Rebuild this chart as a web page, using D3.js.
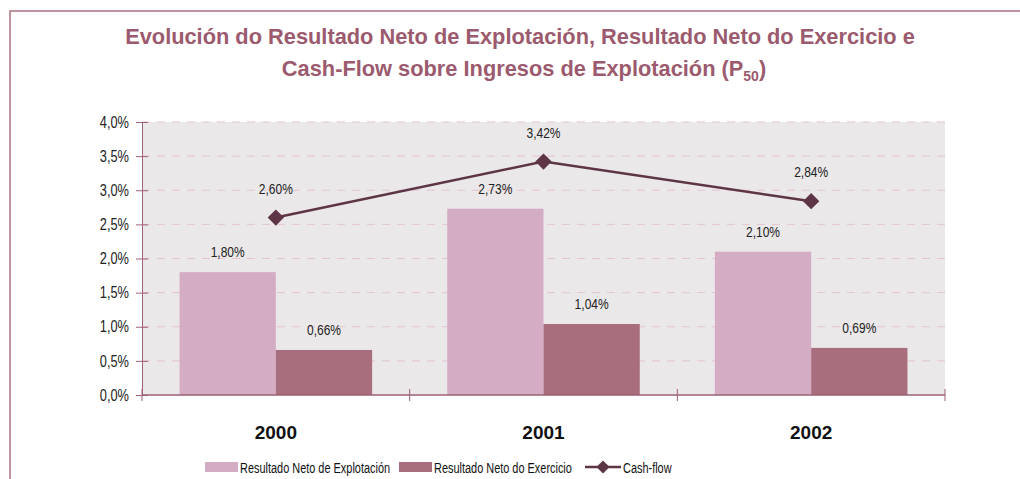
<!DOCTYPE html>
<html>
<head>
<meta charset="utf-8">
<script src="https://cdn.jsdelivr.net/npm/d3@7"></script>
<style>
  body { margin: 0; background: #fff; }
  #corpo { width: 1020px; height: 479px; overflow: hidden; }
  text { font-family: "Liberation Sans", Arial, sans-serif; }
</style>
</head>
<body>
<div id="corpo"></div>
<script>
// datos
var anos = ["2000", "2001", "2002"];
var series = ["Resultado Neto de Explotación", "Resultado Neto do Exercicio"];
var explotacion = [1.80, 2.73, 2.10];
var exercicio = [0.66, 1.04, 0.69];
var cashflow = [2.60, 3.42, 2.84];
var yTicks = [0, 0.5, 1, 1.5, 2, 2.5, 3, 3.5, 4];

var corBarra = ["#d4acc4", "#a96e7e"];
var corLinha = "#5e3546";
var corEixo = "#9e6074";

var width = 1020, height = 479;
var margin = {left: 142, right: 75, top: 122, bottom: 84};

var svg = d3.select("#corpo").append("svg")
    .attr("width", width)
    .attr("height", height);

// marco
svg.append("rect")
    .attr("x", 10).attr("y", 11)
    .attr("width", 1030).attr("height", 500)
    .style("fill", "none")
    .style("stroke", "#a8707f")
    .style("stroke-width", 1.5);

// titulo
var titulo = svg.append("text")
    .attr("text-anchor", "middle")
    .style("font-weight", "bold")
    .style("font-size", "21.8px")
    .style("fill", "#9b5a6e");
titulo.append("tspan").attr("x", 520).attr("y", 44)
    .text("Evolución do Resultado Neto de Explotación, Resultado Neto do Exercicio e");
var l2 = titulo.append("tspan").attr("x", 524).attr("y", 76)
    .text("Cash-Flow sobre Ingresos de Explotación (P");
l2.append("tspan").attr("dy", 5).style("font-size", "14px").text("50");
l2.append("tspan").attr("dy", -5).text(")");

var x = d3.scaleBand()
    .domain(anos)
    .range([margin.left, width - margin.right]);

var y = d3.scaleLinear()
    .domain([0, 4])
    .range([height - margin.bottom, margin.top]);

var xs = d3.scaleBand()
    .domain(series)
    .range([0, x.bandwidth()])
    .paddingOuter(0.39)
    .paddingInner(0);

// fondo
svg.append("rect")
    .attr("x", x.range()[0] + 1)
    .attr("y", y(4))
    .attr("width", x.range()[1] - x.range()[0] - 1)
    .attr("height", y(0) - y(4))
    .style("fill", "#ebe8ea");

// grid
svg.selectAll(".grid")
    .data(yTicks.filter(function(d){ return d > 0; }))
    .enter().append("line")
    .attr("x1", x.range()[0]).attr("x2", x.range()[1])
    .attr("y1", function(d){ return y(d); })
    .attr("y2", function(d){ return y(d); })
    .style("stroke", "#e5c3d1")
    .style("stroke-width", 1)
    .style("stroke-dasharray", "8,7");

// eixo y
var eixoY = svg.append("g")
    .attr("transform", "translate(" + x.range()[0] + ",0)")
    .call(d3.axisLeft(y).tickValues(yTicks).tickSize(6).tickPadding(7)
        .tickFormat(function(d){ return d.toFixed(1).replace(".", ",") + "%"; }));
eixoY.select(".domain").style("stroke", corEixo);
eixoY.selectAll(".tick line").style("stroke", corEixo);
eixoY.selectAll("text")
    .attr("class", "narrow")
    .style("font-family", "'Liberation Sans', Arial, sans-serif")
    .style("font-size", "16px")
    .style("fill", "#222");
eixoY.selectAll(".tick").append("line")
    .attr("x2", 6).style("stroke", corEixo);

// barras
var dados = anos.map(function(a, i){
    return {ano: a, valores: [explotacion[i], exercicio[i]]};
});

var grupo = svg.selectAll(".grupo")
    .data(dados)
    .enter().append("g")
    .attr("class", "grupo")
    .attr("transform", function(d){ return "translate(" + x(d.ano) + ",0)"; });

grupo.selectAll("rect")
    .data(function(d){ return d.valores.map(function(v, j){ return {serie: series[j], valor: v, j: j}; }); })
    .enter().append("rect")
    .attr("x", function(d){ return xs(d.serie); })
    .attr("width", xs.bandwidth())
    .attr("y", function(d){ return y(d.valor); })
    .attr("height", function(d){ return y(0) - y(d.valor); })
    .style("fill", function(d){ return corBarra[d.j]; });

grupo.selectAll(".rotulo")
    .data(function(d){ return d.valores.map(function(v, j){ return {serie: series[j], valor: v}; }); })
    .enter().append("text")
    .attr("class", "narrow")
    .attr("x", function(d){ return xs(d.serie) + xs.bandwidth() / 2; })
    .attr("y", function(d){ return y(d.valor) - 15; })
    .attr("text-anchor", "middle")
    .style("font-size", "15px")
    .style("fill", "#222")
    .text(function(d){ return percentFormat(d.valor); });

// eixo x
var eixoX = svg.append("g")
    .attr("transform", "translate(0," + y(0) + ")");
eixoX.append("line")
    .attr("x1", x.range()[0]).attr("x2", x.range()[1])
    .style("stroke", corEixo).style("stroke-width", 1.5);
eixoX.selectAll(".sep")
    .data(anos.concat(["fim"]))
    .enter().append("line")
    .attr("x1", function(d, i){ return x.range()[0] + i * x.step(); })
    .attr("x2", function(d, i){ return x.range()[0] + i * x.step(); })
    .attr("y1", -6).attr("y2", 6)
    .style("stroke", corEixo);
eixoX.selectAll(".cat")
    .data(anos)
    .enter().append("text")
    .attr("x", function(d){ return x(d) + x.bandwidth() / 2; })
    .attr("y", 44)
    .attr("text-anchor", "middle")
    .style("font-weight", "bold")
    .style("font-size", "19px")
    .style("fill", "#111")
    .text(function(d){ return d; });

// linea cash-flow
var cx = function(d, i){ return x(anos[i]) + x.bandwidth() / 2; };
var linha = d3.line()
    .x(function(d, i){ return cx(d, i); })
    .y(function(d){ return y(d); });

svg.append("path")
    .datum(cashflow)
    .attr("d", linha)
    .style("fill", "none")
    .style("stroke", corLinha)
    .style("stroke-width", 2.5);

var diamante = d3.symbol().type(d3.symbolDiamond2).size(170);

svg.selectAll(".marca")
    .data(cashflow)
    .enter().append("path")
    .attr("d", diamante)
    .attr("transform", function(d, i){ return "translate(" + cx(d, i) + "," + y(d) + ")"; })
    .style("fill", corLinha);

svg.selectAll(".rotuloCF")
    .data(cashflow)
    .enter().append("text")
    .attr("class", "narrow")
    .attr("x", function(d, i){ return cx(d, i); })
    .attr("y", function(d){ return y(d) - 24; })
    .attr("text-anchor", "middle")
    .style("font-size", "15px")
    .style("fill", "#222")
    .text(function(d){ return percentFormat(d); });

// lenda
var lenda = svg.append("g").attr("transform", "translate(0,467)");
var itens = [
    {tipo: "barra", cor: corBarra[0], texto: series[0], x: 205},
    {tipo: "barra", cor: corBarra[1], texto: series[1], x: 399},
    {tipo: "linha", cor: corLinha, texto: "Cash-flow", x: 585}
];
itens.forEach(function(it){
    if(it.tipo == "barra"){
        lenda.append("rect")
            .attr("x", it.x).attr("y", -5)
            .attr("width", 33).attr("height", 10)
            .style("fill", it.cor);
    }
    else{
        lenda.append("line")
            .attr("x1", it.x).attr("x2", it.x + 36)
            .style("stroke", it.cor).style("stroke-width", 2.5);
        lenda.append("path")
            .attr("d", d3.symbol().type(d3.symbolDiamond2).size(110))
            .attr("transform", "translate(" + (it.x + 18) + ",0)")
            .style("fill", it.cor);
    }
    lenda.append("text")
        .attr("class", "narrowLenda")
        .attr("x", it.x + (it.tipo == "barra" ? 35 : 38))
        .attr("y", 6)
        .style("font-size", "15.5px")
        .style("fill", "#111")
        .text(it.texto);
});

// comprime os textos para imitar Arial Narrow
comprime("text.narrow", 0.8);
comprime("text.narrowLenda", 0.705);

function comprime(sel, fator){
    svg.selectAll(sel).each(function(){
        var w = this.getComputedTextLength();
        d3.select(this)
            .attr("textLength", w * fator)
            .attr("lengthAdjust", "spacingAndGlyphs");
    });
}

function percentFormat(number){
    return number.toFixed(2).replace(".", ",") + "%";
}
</script>
</body>
</html>
